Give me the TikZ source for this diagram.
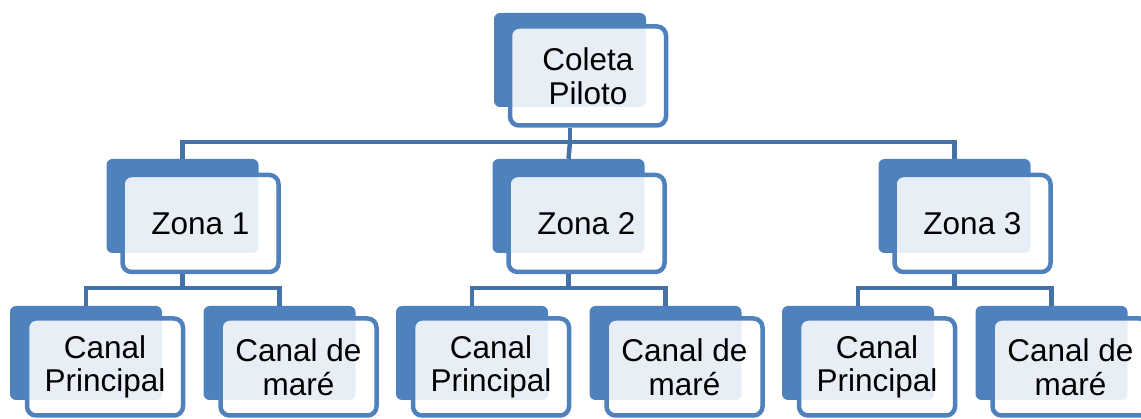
\documentclass[tikz,border=0pt]{standalone}
\usepackage{fontspec}
\setmainfont{Liberation Sans}
\usetikzlibrary{calc}
\definecolor{azul}{RGB}{79,129,189}
\definecolor{azulescuro}{RGB}{69,114,167}
\tikzset{
fundo/.style={rectangle,rounded corners=6pt,fill=azul,draw=none,inner sep=0pt,minimum width=152pt,minimum height=94pt},
frente/.style={rectangle,rounded corners=9pt,draw=azul,line width=4.5pt,fill=white,fill opacity=0.87,text opacity=1,inner sep=0pt,minimum width=156pt,minimum height=97pt,align=center,font=\fontsize{31.5}{33.5}\selectfont},
linha/.style={draw=azulescuro,line width=4.5pt}
}
\begin{document}
\begin{tikzpicture}[x=1pt,y=-1pt]
\useasboundingbox (0,0) rectangle (1141,419);

\node[fundo](topob) at(570,60){};
\node[fundo](z1b) at(182.5,206){};
\node[fundo](z2b) at(568.5,206){};
\node[fundo](z3b) at(954.5,206){};
\node[fundo](c11b) at(86,353){};
\node[fundo](c12b) at(279.5,353){};
\node[fundo](c21b) at(472,353){};
\node[fundo](c22b) at(665.5,353){};
\node[fundo](c31b) at(858,353){};
\node[fundo](c32b) at(1051.5,353){};

\node[frente,minimum height=99pt](topo) at(588,76){Coleta\\Piloto};
\node[frente](z1) at(200.5,223.5){Zona 1};
\node[frente](z2) at(586.5,223.5){Zona 2};
\node[frente](z3) at(972.5,223.5){Zona 3};
\node[frente](c11) at(105,367){Canal\\Principal};
\node[frente](c12) at(298.5,367){Canal de\\maré};
\node[frente](c21) at(491,367){Canal\\Principal};
\node[frente](c22) at(684.5,367){Canal de\\maré};
\node[frente](c31) at(877,367){Canal\\Principal};
\node[frente](c32) at(1070.5,367){Canal de\\maré};

\coordinate(bus0) at(0,142);
\coordinate(bus1) at(0,288);

\draw[linha](topob |- topo.south)--(topob |- bus0)-|(z1b.north);
\draw[linha](topob |- bus0)-|(z3b.north);
\draw[linha](topob |- bus0)--(z2b.north);

\draw[linha](z1b |- z1.south)--(z1b |- bus1)-|(c11b.north);
\draw[linha](z1b |- bus1)-|(c12b.north);
\draw[linha](z2b |- z2.south)--(z2b |- bus1)-|(c21b.north);
\draw[linha](z2b |- bus1)-|(c22b.north);
\draw[linha](z3b |- z3.south)--(z3b |- bus1)-|(c31b.north);
\draw[linha](z3b |- bus1)-|(c32b.north);

\end{tikzpicture}
\end{document}
